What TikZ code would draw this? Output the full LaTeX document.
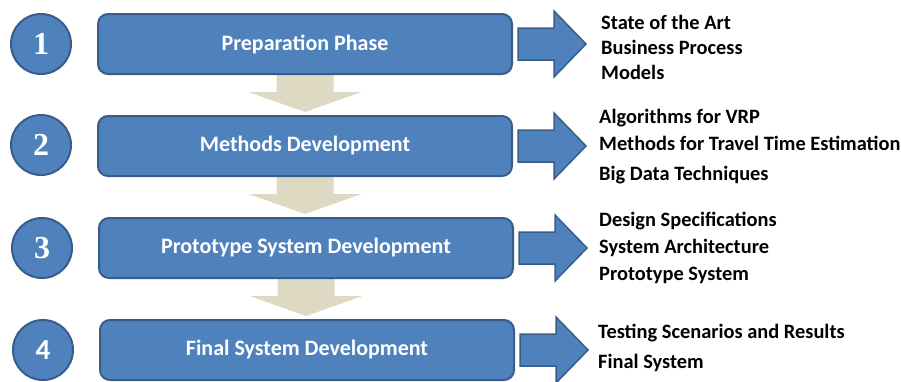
\documentclass[tikz,border=0pt]{standalone}
\usepackage{fontspec}
\setmainfont{Carlito}
\newfontfamily\numfont{Liberation Serif}
\usetikzlibrary{calc,backgrounds}
\definecolor{phaseblue}{HTML}{4F81BD}
\definecolor{phaseedge}{HTML}{385D8A}
\definecolor{flowtan}{HTML}{DDD9C3}
\tikzset{
  phase/.style={draw=phaseedge,fill=phaseblue,line width=2pt,rounded corners=10pt,
    minimum width=414pt,minimum height=60pt,inner sep=0pt,text=white,
    font=\bfseries\fontsize{22}{26}\selectfont},
  phasenum/.style={circle,draw=phaseedge,fill=phaseblue,line width=2pt,
    minimum size=60pt,inner sep=0pt,text=white},
  outarrow/.style={draw=phaseedge,fill=phaseblue,line width=1.5pt,line join=miter},
  downarrow/.style={fill=flowtan},
  result/.style={anchor=base west,inner sep=0pt,font=\bfseries\fontsize{20.4}{24}\selectfont}
}
\begin{document}
\begin{tikzpicture}[x=1pt,y=-1pt]
\useasboundingbox (0,0) rectangle (901,381);
% step numbers
\node[phasenum] (n1) at (41,44) {\numfont\bfseries\fontsize{32}{32}\selectfont 1};
\node[phasenum] (n2) at (41,145) {\numfont\bfseries\fontsize{32}{32}\selectfont 2};
\node[phasenum] (n3) at (42,248) {\numfont\bfseries\fontsize{32}{32}\selectfont 3};
\node[phasenum] (n4) at (43,350) {\bfseries\fontsize{29}{29}\selectfont 4};
% phases
\node[phase] (b1) at (305,44) {Preparation Phase};
\node[phase] (b2) at (305,146) {Methods Development};
\node[phase] (b3) at (306,248) {Prototype System Development};
\node[phase] (b4) at (307,350) {Final System Development};
% flow between phases
\begin{scope}[on background layer]
\foreach \i in {1,2,3}
  \fill[downarrow] ($(b\i.south)+(-28.5,-2)$) -- ++(0,19) -- ++(-28,0) -- ++(56.5,20)
    -- ++(56.5,-20) -- ++(-28,0) -- ++(0,-19) -- cycle;
\end{scope}
% results
\foreach \i in {1,...,4}
  \draw[outarrow] ($(b\i.east)+(5,-16)$) -- ++(36,0) -- ++(0,-17) -- ++(32,33)
    -- ++(-32,33) -- ++(0,-17) -- ++(-36,0) -- cycle;
\node[result] (r1a) at (601,29) {State of the Art};
\node[result] (r1b) at (601,54) {Business Process};
\node[result] (r1c) at (601,79) {Models};
\node[result] (r2a) at (599,123) {Algorithms for VRP};
\node[result] (r2b) at (599,150) {Methods for Travel Time Estimation};
\node[result] (r2c) at (599,180) {Big Data Techniques};
\node[result] (r3a) at (599,226) {Design Specifications};
\node[result] (r3b) at (599,253) {System Architecture};
\node[result] (r3c) at (599,280) {Prototype System};
\node[result] (r4a) at (598,338) {Testing Scenarios and Results};
\node[result] (r4b) at (598,368) {Final System};
\end{tikzpicture}
\end{document}
